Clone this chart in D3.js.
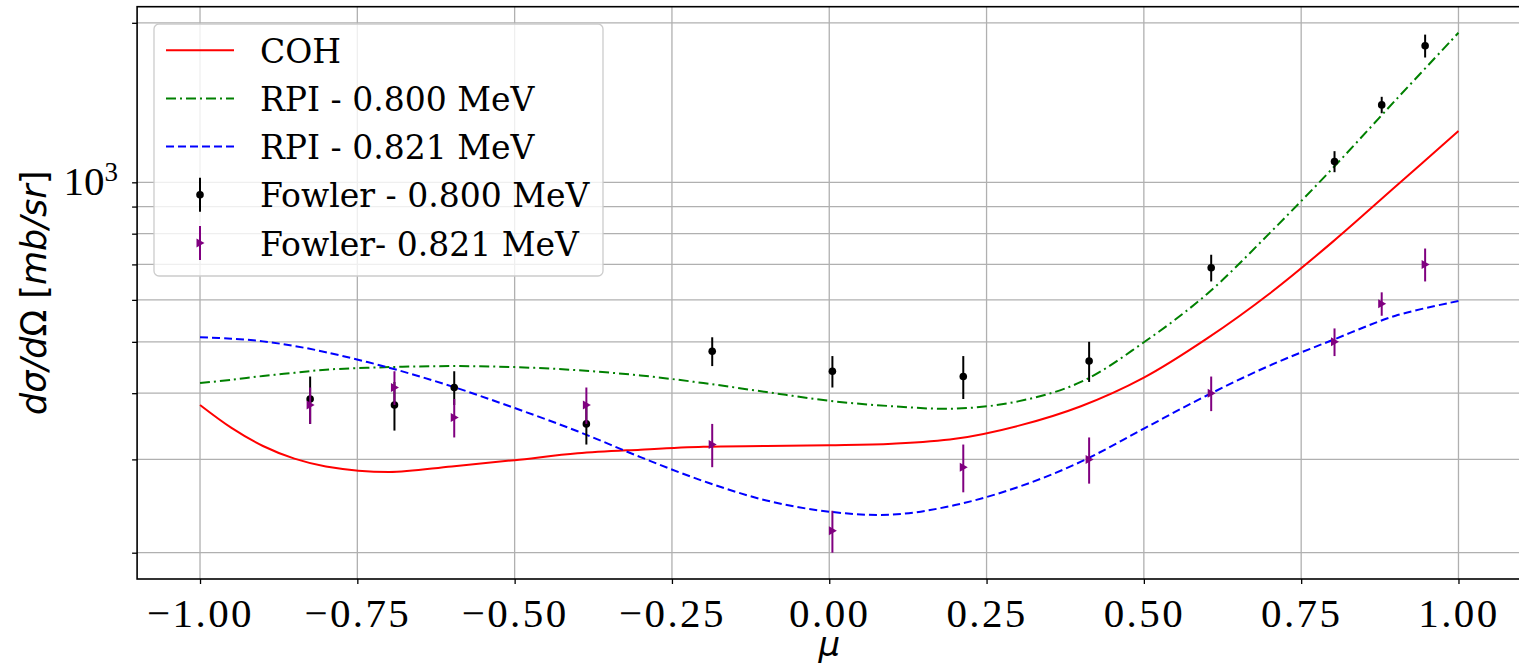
<!DOCTYPE html>
<html>
<head>
<meta charset="utf-8">
<script src="https://cdn.jsdelivr.net/npm/d3@7"></script>
<style>
  html, body { margin: 0; padding: 0; background: #fff; }
  svg { display: block; }
</style>
</head>
<body>
<svg id="chart" width="1519" height="665"></svg>
<script>
// theory curves, sampled along mu
const muCurve = [-1, -0.95, -0.9, -0.85, -0.8, -0.7, -0.6, -0.5, -0.4, -0.3, -0.2, -0.1, 0,
                 0.1, 0.2, 0.3, 0.4, 0.5, 0.6, 0.7, 0.8, 0.9, 1];
const coh    = [380, 344, 318, 301, 291, 284, 291, 299, 308, 313, 317, 318, 319,
                321, 328, 347, 378, 428, 507, 617, 772, 982, 1250];
const rpi800 = [418, 424, 431, 437, 443, 448, 450, 448, 442, 432, 418, 402, 387,
                378, 374, 386, 420, 499, 615, 802, 1063, 1429, 1915];
const rpi821 = [510, 507, 501, 491, 478, 447, 412, 375, 339, 303, 273, 251, 239,
                236, 246, 266, 297, 343, 396, 451, 504, 560, 597];

// Fowler measurements
const muFowler     = [-0.825, -0.691, -0.596, -0.386, -0.186, 0.005, 0.213, 0.413, 0.607, 0.803, 0.878, 0.947];
const fowler800    = [390, 380, 410, 350, 480, 440, 430, 460, 690, 1095, 1400, 1810];
const fowler800Err = [40, 40, 30, 30, 30, 30, 40, 40, 40, 50, 50, 90];
const fowler821    = [380, 410, 360, 380, 320, 220, 290, 300, 400, 500, 590, 700];
const fowler821Err = [30, 30, 30, 30, 30, 20, 30, 30, 30, 30, 30, 50];

// axes
const xTicks = [-1, -0.75, -0.5, -0.25, 0, 0.25, 0.5, 0.75, 1];
const yMajor = [1000];
const yMinor = [200, 300, 400, 500, 600, 700, 800, 900, 2000];

const legendLabels = ['COH', 'RPI - 0.800 MeV', 'RPI - 0.821 MeV', 'Fowler - 0.800 MeV', 'Fowler- 0.821 MeV'];

const plot = { left: 137.1, right: 1521.4, top: 6.7, bottom: 579 };

const svg = d3.select('#chart');
const x = d3.scaleLinear().domain([-1.1, 1.1]).range([plot.left, plot.right]);
const y = d3.scaleLog().domain([178.4, 2145]).range([plot.bottom, plot.top]);

const tickFont = 'Liberation Serif, Times New Roman, serif';
const gridColor = '#b0b0b0';

// grid
const grid = svg.append('g');
grid.selectAll('line.gx').data(xTicks).join('line')
    .attr('x1', d => x(d)).attr('x2', d => x(d))
    .attr('y1', plot.top).attr('y2', plot.bottom)
    .attr('stroke', gridColor).attr('stroke-width', 1.3);
grid.selectAll('line.gy').data(yMajor.concat(yMinor)).join('line')
    .attr('x1', plot.left).attr('x2', plot.right)
    .attr('y1', d => y(d)).attr('y2', d => y(d))
    .attr('stroke', gridColor).attr('stroke-width', 1.3);

// x axis
const xAxis = svg.append('g')
    .attr('transform', `translate(0,${plot.bottom})`)
    .call(d3.axisBottom(x).tickValues(xTicks).tickFormat(d3.format('.2f')).tickSize(5).tickPadding(14));
xAxis.select('.domain').remove();
xAxis.selectAll('.tick line').attr('stroke', '#000').attr('stroke-width', 1.3);
xAxis.selectAll('.tick text')
    .attr('font-family', tickFont).attr('font-size', 41).attr('fill', '#000')
    .attr('letter-spacing', '2.4px');

// y axis ticks (log)
const yAxis = svg.append('g')
    .attr('transform', `translate(${plot.left},0)`)
    .call(d3.axisLeft(y).tickValues(yMajor.concat(yMinor)).tickFormat('').tickSize(5));
yAxis.select('.domain').remove();
yAxis.selectAll('.tick line').attr('stroke', '#000').attr('stroke-width', 1.3);

const yLab = svg.append('text')
    .attr('x', 118).attr('y', y(1000) + 13)
    .attr('text-anchor', 'end')
    .attr('font-family', tickFont).attr('font-size', 41);
yLab.append('tspan').text('10');
yLab.append('tspan').attr('font-size', 27).attr('dy', -14).text('3');

// axis labels
const ylabel = svg.append('text')
    .attr('transform', `translate(46,${(plot.top + plot.bottom) / 2}) rotate(-90)`)
    .attr('text-anchor', 'middle')
    .attr('font-family', 'DejaVu Sans, sans-serif').attr('font-size', 35);
ylabel.append('tspan').attr('font-style', 'italic').text('dσ/d');
ylabel.append('tspan').text('Ω [');
ylabel.append('tspan').attr('font-style', 'italic').text('mb/sr');
ylabel.append('tspan').text(']');

svg.append('text')
    .attr('x', (x(-1) + x(1)) / 2).attr('y', 656)
    .attr('text-anchor', 'middle')
    .attr('font-family', 'DejaVu Sans, sans-serif').attr('font-size', 34)
    .attr('font-style', 'italic').text('μ');

// theory lines
const curves = [
    { values: coh, color: '#ff0000', dash: null },
    { values: rpi800, color: '#008000', dash: '10,4,2,4' },
    { values: rpi821, color: '#0000ff', dash: '8,4' }
];
const line = d3.line().x(d => x(d[0])).y(d => y(d[1])).curve(d3.curveCatmullRom.alpha(0.5));
svg.append('clipPath').attr('id', 'plotclip').append('rect')
    .attr('x', plot.left).attr('y', plot.top)
    .attr('width', plot.right - plot.left).attr('height', plot.bottom - plot.top);
svg.append('g').attr('clip-path', 'url(#plotclip)')
  .selectAll('path').data(curves).join('path')
    .attr('d', c => line(muCurve.map((m, i) => [m, c.values[i]])))
    .attr('fill', 'none')
    .attr('stroke', c => c.color)
    .attr('stroke-width', 2)
    .attr('stroke-dasharray', c => c.dash);

// error bars
const tri = 'M-3.5,-4.5L-3.5,4.5L4.5,0Z';
function errorbars(vals, errs, color, marker) {
    const g = svg.append('g');
    const pts = muFowler.map((m, i) => ({ m, v: vals[i], e: errs[i] }));
    g.selectAll('line').data(pts).join('line')
        .attr('x1', d => x(d.m)).attr('x2', d => x(d.m))
        .attr('y1', d => y(d.v - d.e)).attr('y2', d => y(d.v + d.e))
        .attr('stroke', color).attr('stroke-width', 2);
    if (marker === 'circle') {
        g.selectAll('circle').data(pts).join('circle')
            .attr('cx', d => x(d.m)).attr('cy', d => y(d.v)).attr('r', 3.8)
            .attr('fill', color);
    } else {
        g.selectAll('path').data(pts).join('path')
            .attr('transform', d => `translate(${x(d.m)},${y(d.v)})`)
            .attr('d', tri).attr('fill', color);
    }
}
errorbars(fowler800, fowler800Err, '#000', 'circle');
errorbars(fowler821, fowler821Err, 'purple', 'tri');

// legend
const leg = svg.append('g');
leg.append('rect')
    .attr('x', 154).attr('y', 24).attr('width', 449).attr('height', 252).attr('rx', 5)
    .attr('fill', '#fff').attr('fill-opacity', 0.8)
    .attr('stroke', '#cccccc').attr('stroke-width', 1.3);
const rowY = i => 62.7 + i * 48.2;
legendLabels.forEach((label, i) => {
    const cy = rowY(i) - 12.5;
    if (i < 3) {
        leg.append('line')
            .attr('x1', 166).attr('x2', 234).attr('y1', cy).attr('y2', cy)
            .attr('stroke', curves[i].color).attr('stroke-width', 2)
            .attr('stroke-dasharray', curves[i].dash);
    } else {
        const color = i === 3 ? '#000' : 'purple';
        leg.append('line')
            .attr('x1', 200).attr('x2', 200).attr('y1', cy - 17).attr('y2', cy + 17)
            .attr('stroke', color).attr('stroke-width', 2);
        if (i === 3) {
            leg.append('circle').attr('cx', 200).attr('cy', cy).attr('r', 3.8).attr('fill', color);
        } else {
            leg.append('path').attr('transform', `translate(200,${cy})`).attr('d', tri).attr('fill', color);
        }
    }
    leg.append('text')
        .attr('x', 260).attr('y', rowY(i))
        .attr('font-family', 'DejaVu Serif, serif').attr('font-size', 33)
        .text(label);
});

// frame
svg.append('rect')
    .attr('x', plot.left).attr('y', plot.top)
    .attr('width', plot.right - plot.left).attr('height', plot.bottom - plot.top)
    .attr('fill', 'none').attr('stroke', '#000').attr('stroke-width', 1.6);
</script>
</body>
</html>
